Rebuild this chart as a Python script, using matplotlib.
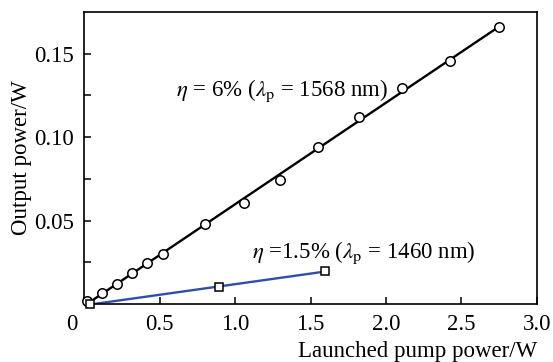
import numpy as np
import matplotlib
matplotlib.use("Agg")
import matplotlib.pyplot as plt
import matplotlib.transforms as mtransforms
from matplotlib.ticker import FixedLocator, FixedFormatter, NullFormatter

# data
x_1568 = [0.022, 0.117, 0.216, 0.316, 0.42, 0.525, 0.80, 1.06, 1.298, 1.547, 1.823, 2.104, 2.424, 2.748]
y_1568 = [0.002, 0.0064, 0.0118, 0.0188, 0.0248, 0.030, 0.0478, 0.0604, 0.0744, 0.094, 0.1118, 0.1294, 0.1456, 0.166]
x_1460 = [0.04, 0.896, 1.596]
y_1460 = [0.0, 0.010, 0.0198]

xticks = [0, 0.5, 1.0, 1.5, 2.0, 2.5, 3.0]
xticklabels = ["0", "0.5", "1.0", "1.5", "2.0", "2.5", "3.0"]
yticks = [0.05, 0.10, 0.15]
yticklabels = ["0.05", "0.10", "0.15"]
yminor = [0.025, 0.075, 0.125]

plt.rcParams['font.family'] = ['Liberation Serif', 'DejaVu Serif']
plt.rcParams['mathtext.fontset'] = 'stix'

FS = 16.5
fig = plt.figure(figsize=(5.53, 3.62), dpi=100)
ax = fig.add_axes([0.152, 0.160, 0.819, 0.807])

# fitted lines
p1 = np.polyfit(x_1568, y_1568, 1)
xf1 = np.array([min(x_1568) + 0.02, max(x_1568)])
ax.plot(xf1, np.polyval(p1, xf1), color='black', lw=1.7, zorder=2)
p2 = np.polyfit(x_1460, y_1460, 1)
xf2 = np.array([min(x_1460), max(x_1460)])
ax.plot(xf2, np.polyval(p2, xf2), color='#2f4fa8', lw=1.7, zorder=2)

ax.plot(x_1568, y_1568, 'o', ms=6.8, mfc='white', mec='black', mew=1.1, zorder=3, clip_on=False)
ax.plot(x_1460, y_1460, 's', ms=5.5, mfc='white', mec='black', mew=1.1, zorder=3, clip_on=False)

ax.set_xlim(0, 3.0)
ax.set_ylim(0, 0.175)

ax.xaxis.set_major_locator(FixedLocator(xticks))
ax.xaxis.set_major_formatter(FixedFormatter(xticklabels))
ax.yaxis.set_major_locator(FixedLocator(yticks))
ax.yaxis.set_major_formatter(FixedFormatter(yticklabels))
ax.yaxis.set_minor_locator(FixedLocator(yminor))
ax.yaxis.set_minor_formatter(NullFormatter())

ax.tick_params(axis='both', which='both', direction='in', length=5, width=1.1, labelsize=FS, pad=7)
for s in ax.spines.values():
    s.set_linewidth(1.2)

# shift the "0" x tick label left, as in the reference
fig.canvas.draw()
lbl0 = ax.get_xticklabels()[0]
lbl0.set_transform(lbl0.get_transform() + mtransforms.ScaledTranslation(-12 / 100, 0, fig.dpi_scale_trans))

ax.text(0.61, 0.128, r'$\eta$ = 6% ($\lambda_{\mathrm{p}}$ = 1568 nm)', fontsize=FS, va='center', ha='left')
ax.text(1.11, 0.0306, r'$\eta$ =1.5% ($\lambda_{\mathrm{p}}$ = 1460 nm)', fontsize=FS, va='center', ha='left')

ax.set_ylabel('Output power/W', fontsize=FS)
ax.yaxis.set_label_coords(-0.115, 0.5)
ax.set_xlabel('Launched pump power/W', fontsize=FS)
ax.xaxis.set_label_coords(1.0, -0.125)
ax.xaxis.label.set_ha('right')

fig.savefig('out.png', dpi=100)
